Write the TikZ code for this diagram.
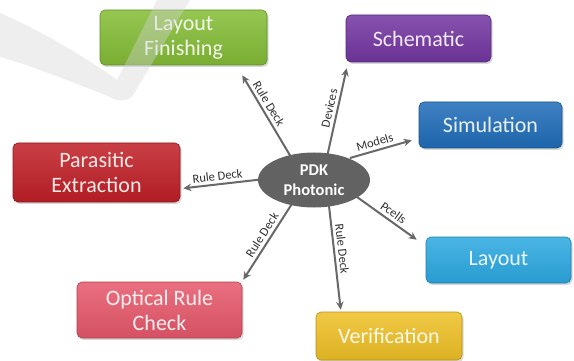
\documentclass[tikz,border=0pt]{standalone}
\usepackage{fontspec}
\setmainfont{Carlito}
\usetikzlibrary{arrows.meta,shapes.geometric,shadows,calc}
\pgfdeclarelayer{bg}
\pgfsetlayers{bg,main}

\definecolor{lfcol}{HTML}{84BD36}
\definecolor{schcol}{HTML}{7336A1}
\definecolor{simcol}{HTML}{206DB9}
\definecolor{pecol}{HTML}{C02027}
\definecolor{orccol}{HTML}{E6586B}
\definecolor{laycol}{HTML}{2CA9E1}
\definecolor{vercol}{HTML}{EFC026}
\definecolor{hubcol}{HTML}{626262}
\definecolor{arrcol}{HTML}{686868}
\definecolor{lblcol}{HTML}{2E2E2E}
\definecolor{markcol}{HTML}{D4D4D4}

\tikzset{
  stage/.style={rectangle, rounded corners=5pt, align=center,
    top color=#1!86!white, bottom color=#1!92!black, draw=#1!75!black,
    line width=0.6pt, text=#1!10!white,
    font=\fontsize{22}{25}\selectfont, inner sep=2pt,
    drop shadow={shadow xshift=1.5pt, shadow yshift=-2pt, opacity=0.3}},
  hub/.style={ellipse, fill=hubcol, text=white, align=center,
    font=\fontsize{16.5}{20}\selectfont\bfseries,
    minimum width=112pt, minimum height=55pt, inner sep=0pt},
  arr/.style={draw=arrcol, line width=2pt, -{Stealth[length=8pt,width=7.5pt]}},
  lbl/.style={sloped, above, inner sep=3pt, text=lblcol,
    font=\fontsize{12.5}{14}\selectfont}
}

\begin{document}
\begin{tikzpicture}[x=1pt,y=-1pt]
\useasboundingbox (0,0) rectangle (574,361);

% stage boxes
\node[stage=lfcol,  minimum width=167pt, minimum height=55pt] (lf)  at (183.5,37.5) {Layout\\Finishing};
\node[stage=schcol, minimum width=145pt, minimum height=47pt] (sch) at (418.5,38.5) {Schematic};
\node[stage=simcol, minimum width=143pt, minimum height=46pt] (sim) at (490.5,125) {Simulation};
\node[stage=pecol,  minimum width=167pt, minimum height=59pt] (pe)  at (96.5,172.5) {Parasitic\\Extraction};
\node[stage=orccol, minimum width=165pt, minimum height=56pt] (orc) at (159.5,310) {Optical Rule\\Check};
\node[stage=laycol, minimum width=145pt, minimum height=46pt] (lay) at (498.5,260) {Layout};
\node[stage=vercol, minimum width=146pt, minimum height=48pt] (ver) at (389,336) {Verification};

% faint check-mark mark in the upper left corner
\fill[markcol, opacity=0.4]
  (0,13) .. controls (40,30) and (90,60) .. (117,80) -- (157,0) -- (190,0)
  -- (133,95) .. controls (128,102) and (118,102) .. (110,97)
  .. controls (80,85) and (30,65) .. (0,57) -- cycle;

% central hub
\node[hub] (pdk) at (314,180) {PDK\\Photonic};

% arrow tips next to the boxes
\coordinate (tlf)  at ($(lf.south east)+(-25,10)$);
\coordinate (tsch) at ($(sch.south west)+(1,6)$);
\coordinate (tsim) at ($(sim.south west)+(-7,-8)$);
\coordinate (tpe)  at ($(pe.south east)+(3,-14)$);
\coordinate (torc) at ($(orc.north east)+(1,-2)$);
\coordinate (tver) at ($(ver.north west)+(25,-2)$);
\coordinate (tlay) at ($(lay.north west)+(-9,3)$);

% connectors start under the hub
\begin{pgfonlayer}{bg}
\draw[arr] ($(pdk.center)+(-23,-23)$) -- node[lbl, pos=0.60] {Rule Deck} (tlf);
\draw[arr] ($(pdk.center)+(13,-23)$)  -- node[lbl, pos=0.53] {Devices} (tsch);
\draw[arr] ($(pdk.center)+(36,-22)$)  -- node[lbl, pos=0.44] {Models} (tsim);
\draw[arr] ($(pdk.center)+(-49,-1)$)  -- node[lbl, pos=0.57] {Rule Deck} (tpe);
\draw[arr] ($(pdk.center)+(-17,16)$)  -- node[lbl, pos=0.52] {Rule Deck} (torc);
\draw[arr] ($(pdk.center)+(14,17)$)   -- node[lbl, pos=0.47] {Rule Deck} (tver);
\draw[arr] ($(pdk.center)+(36,12)$)   -- node[lbl, pos=0.58] {Pcells} (tlay);
\end{pgfonlayer}
\end{tikzpicture}
\end{document}
